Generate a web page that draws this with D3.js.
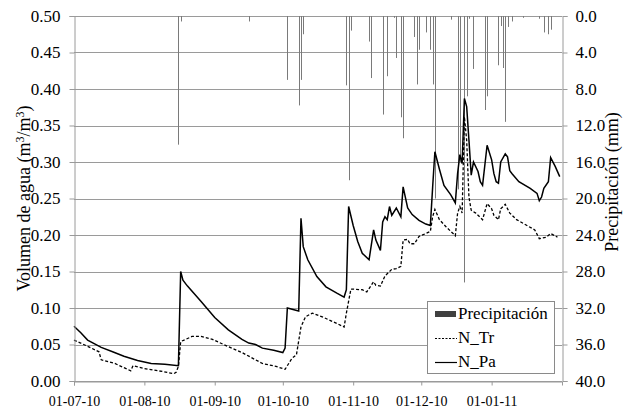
<!DOCTYPE html>
<html>
<head>
<meta charset="utf-8">
<script src="https://cdn.jsdelivr.net/npm/d3@7"></script>
<style>
  body { margin: 0; background: #fff; }
  svg { font-family: "Liberation Serif", "Times New Roman", serif; }
</style>
</head>
<body>
<div id="chart"></div>
<script>
var startDate = new Date(2010, 6, 1);
var endDate = new Date(2011, 1, 1);

var monthTicks = [new Date(2010, 6, 1), new Date(2010, 7, 1), new Date(2010, 8, 1), new Date(2010, 9, 1),
                  new Date(2010, 10, 1), new Date(2010, 11, 1), new Date(2011, 0, 1)];
var leftTicks = [0, 0.05, 0.10, 0.15, 0.20, 0.25, 0.30, 0.35, 0.40, 0.45, 0.50];
var rightTicks = [0, 4, 8, 12, 16, 20, 24, 28, 32, 36, 40];

// days counted from 01-07-10
var paDays = [0,3,6,12,17,22,28,34,40,46,47,48,50,56,62,68,74,77,80,83,88,92,93,94,99,100,101,103,107,111,
  116,119,120,121,123,125,127,130,132,133,135,136,137,138,139,140,142,144,145,147,149,152,155,157,158,159,161,163,166,168,
  169,170,171,172,173,174,175,176,178,179,180,182,184,185,186,187,188,190,191,192,193,196,201,204,205,206,207,209,210,212,214];
var paValues = [.075,.066,.056,.046,.040,.034,.028,.024,.023,.021,.150,.138,.130,.109,.087,.070,.057,.052,.050,.045,
  .042,.039,.045,.100,.096,.223,.184,.166,.143,.129,.120,.115,.125,.239,.213,.191,.175,.166,.207,.193,
  .179,.218,.225,.221,.239,.227,.237,.225,.266,.237,.228,.220,.215,.213,.265,.314,.290,.268,.255,.244,
  .284,.310,.298,.387,.376,.330,.282,.300,.287,.273,.268,.323,.303,.284,.273,.271,.300,.311,.307,.288,
  .284,.273,.264,.257,.247,.252,.264,.273,.306,.294,.280];

var trDays = [0,5,11,12,18,25,26,31,39,44,45,46,47,52,56,61,68,74,80,83,89,93,96,98,100,102,105,110,115,119,
  120,122,127,129,132,133,135,137,138,140,142,144,145,147,148,150,152,155,157,158,159,161,164,168,169,170,171,172,173,174,
  175,177,180,182,184,185,187,188,190,192,195,199,203,205,208,210,213];
var trValues = [.056,.049,.040,.029,.024,.014,.021,.017,.013,.010,.012,.020,.054,.061,.061,.057,.047,.039,.029,.024,
  .020,.016,.031,.036,.074,.088,.093,.087,.080,.074,.093,.126,.125,.122,.136,.131,.130,.144,.147,.153,
  .154,.157,.193,.194,.188,.188,.198,.202,.205,.225,.235,.221,.211,.199,.230,.239,.230,.362,.330,.252,
  .234,.230,.221,.243,.236,.227,.221,.236,.242,.230,.221,.214,.207,.195,.197,.202,.197];

var rainDays = [46,47,77,94,99,100,101,120,121,122,130,131,136,138,141,142,144,145,150,151,
  152,155,157,158,159,166,169,170,172,173,174,176,181,182,187,188,189,190,191,193,198,205,207,209,210];
var rainMm = [14.1,0.6,0.6,7.0,9.8,7.0,2.0,7.6,18.0,1.6,2.8,6.8,10.8,6.6,0.2,4.6,11.1,13.4,2.3,7.5,
  3.7,1.8,3.7,7.5,20.0,0.4,19.0,16.0,29.2,8.8,0.3,5.8,10.3,8.8,5.4,1.1,5.7,11.6,1.2,0.6,0.2,0.3,1.8,2.0,1.5];

var w = 630, h = 412;
var plotLeft = 74, plotRight = 562, plotTop = 16, plotBottom = 381;
var gridColor = "#9a9a9a";
var serif = '"Liberation Serif", "Times New Roman", Times, serif';

var toDate = function(d) { return d3.timeDay.offset(startDate, d); };

var x = d3.scaleTime().domain([startDate, endDate]).range([plotLeft, plotRight]);
var y = d3.scaleLinear().domain([0, 0.5]).range([plotBottom, plotTop]);
var yRain = d3.scaleLinear().domain([0, 40]).range([plotTop, plotBottom]);

var svg = d3.select("#chart").append("svg")
    .attr("width", w)
    .attr("height", h)
    .style("font-family", serif);

// horizontal gridlines
svg.append("g").selectAll("line")
    .data(leftTicks)
    .enter()
    .append("line")
    .attr("x1", plotLeft)
    .attr("x2", plotRight)
    .attr("y1", function(d) { return Math.round(y(d)) + 0.5; })
    .attr("y2", function(d) { return Math.round(y(d)) + 0.5; })
    .attr("stroke", gridColor)
    .attr("stroke-width", 1);

// precipitation bars hanging from the top
svg.append("g").selectAll("line")
    .data(rainDays)
    .enter()
    .append("line")
    .attr("x1", function(d) { return Math.round(x(toDate(d))) + 0.5; })
    .attr("x2", function(d) { return Math.round(x(toDate(d))) + 0.5; })
    .attr("y1", plotTop)
    .attr("y2", function(d, i) { return yRain(rainMm[i]); })
    .attr("stroke", "#7a7a7a")
    .attr("stroke-width", 1);

var line = d3.line()
    .x(function(d) { return x(toDate(d[0])); })
    .y(function(d) { return y(d[1]); });

svg.append("path")
    .datum(d3.zip(trDays, trValues))
    .attr("d", line)
    .attr("fill", "none")
    .attr("stroke", "#000")
    .attr("stroke-width", 1.3)
    .attr("stroke-dasharray", "3,2");

svg.append("path")
    .datum(d3.zip(paDays, paValues))
    .attr("d", line)
    .attr("fill", "none")
    .attr("stroke", "#000")
    .attr("stroke-width", 1.5);

// axes
var styleAxis = function(g, size) {
  g.attr("font-family", null);
  g.selectAll(".domain").attr("stroke", gridColor);
  g.selectAll(".tick line").attr("stroke", gridColor);
  g.selectAll("text").attr("fill", "#000").style("font-size", size + "px").style("font-family", serif);
};

svg.append("g")
    .attr("transform", "translate(" + (plotLeft + 0.5) + ",0)")
    .call(d3.axisLeft(y).tickValues(leftTicks).tickSize(5).tickPadding(9).tickFormat(d3.format(".2f")))
    .call(styleAxis, 17);

svg.append("g")
    .attr("transform", "translate(" + (plotRight + 0.5) + ",0)")
    .call(d3.axisRight(yRain).tickValues(rightTicks).tickSize(5).tickPadding(8).tickFormat(d3.format(".1f")))
    .call(styleAxis, 17);

svg.append("g")
    .attr("transform", "translate(0," + (plotBottom + 0.5) + ")")
    .call(d3.axisBottom(x).tickValues(monthTicks).tickSize(4).tickPadding(11).tickFormat(d3.timeFormat("%d-%m-%y")))
    .call(styleAxis, 14);

// axis titles
svg.append("text")
    .attr("transform", "translate(30," + ((plotTop + plotBottom) / 2) + ") rotate(-90)")
    .attr("text-anchor", "middle")
    .attr("font-size", "18px")
    .attr("fill", "#000")
    .html('Volumen de agua (m<tspan dy="-6" font-size="12px">3</tspan><tspan dy="6">/m</tspan><tspan dy="-6" font-size="12px">3</tspan><tspan dy="6">)</tspan>');

svg.append("text")
    .attr("transform", "translate(618,182) rotate(-90)")
    .attr("text-anchor", "middle")
    .attr("font-size", "18px")
    .attr("fill", "#000")
    .text("Precipitación (mm)");

// legend
var legend = svg.append("g");
legend.append("rect")
    .attr("x", 427.5)
    .attr("y", 301.5)
    .attr("width", 127)
    .attr("height", 72)
    .attr("fill", "#fff")
    .attr("stroke", "#8a8a8a");

var legendItems = ["Precipitación", "N_Tr", "N_Pa"];
var legendRows = legend.selectAll("g")
    .data(legendItems)
    .enter()
    .append("g")
    .attr("transform", function(d, i) { return "translate(0," + (314 + i * 24) + ")"; });

legendRows.append("text")
    .text(function(d) { return d; })
    .attr("x", 458)
    .attr("y", 5)
    .attr("font-size", "17px")
    .attr("fill", "#000");

legendRows.filter(function(d, i) { return i == 0; })
    .append("rect")
    .attr("x", 435)
    .attr("y", -3)
    .attr("width", 21)
    .attr("height", 6)
    .attr("fill", "#404040");

legendRows.filter(function(d, i) { return i > 0; })
    .append("line")
    .attr("x1", 435)
    .attr("x2", 457)
    .attr("y1", 0.5)
    .attr("y2", 0.5)
    .attr("stroke", "#000")
    .attr("stroke-width", 1.2)
    .attr("stroke-dasharray", function(d, i) { return i == 0 ? "2,1.5" : null; });
</script>
</body>
</html>
